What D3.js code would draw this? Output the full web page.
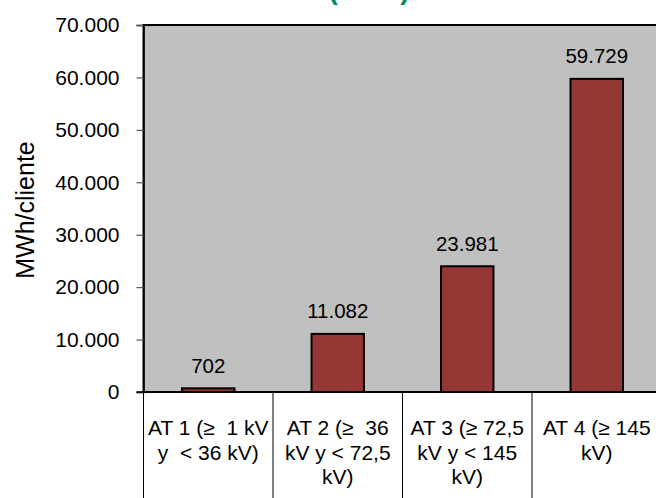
<!DOCTYPE html>
<html><head><meta charset="utf-8">
<script src="https://cdn.jsdelivr.net/npm/d3@7"></script>
<style>body{margin:0;background:#fff}svg{display:block;font-family:Arial,"Liberation Sans",sans-serif}</style>
</head><body><svg id="c" width="656" height="498"></svg>
<script>
const categories = [
  ["AT 1 (≥  1 kV", "y  < 36 kV)"],
  ["AT 2 (≥  36", "kV y < 72,5", "kV)"],
  ["AT 3 (≥ 72,5", "kV y < 145", "kV)"],
  ["AT 4 (≥ 145", "kV)"]
];
const values = [702, 11082, 23981, 59729];
const yTicks = [0, 10000, 20000, 30000, 40000, 50000, 60000, 70000];
const yTitle = "MWh/cliente";
const title = "(2008)";

const loc = d3.formatLocale({decimal: ",", thousands: ".", grouping: [3], currency: ["", "€"]});
const fmt = loc.format(",.0f");

const svg = d3.select("#c");
const pL = 143.5, pR = 661.5, pT = 25, pB = 392;
const x = d3.scaleBand().domain(d3.range(categories.length)).range([pL, pR]).paddingInner(0).paddingOuter(0);
const y = d3.scaleLinear().domain([0, 70000]).range([pB, pT]);

// title (mostly cut off above the top edge, as in the reference)
svg.append("text").attr("x", 369).attr("y", -1.5).attr("text-anchor", "middle")
  .attr("font-size", 28).attr("font-weight", "bold").attr("fill", "#008a66").text(title);

// plot area
svg.append("rect").attr("x", pL).attr("y", pT).attr("width", pR - pL).attr("height", pB - pT)
  .attr("fill", "#c0c0c0").attr("stroke", "#000").attr("stroke-width", 2);

// y axis
const yAxis = svg.append("g").attr("transform", `translate(${pL},0)`)
  .call(d3.axisLeft(y).tickValues(yTicks).tickFormat(fmt).tickSize(7).tickPadding(17));
yAxis.select(".domain").attr("stroke", "#000").attr("stroke-width", 1.5);
yAxis.selectAll(".tick line").attr("stroke", "#555").attr("stroke-width", 1.2);
yAxis.selectAll(".tick text").attr("font-size", 21).attr("fill", "#000").attr("font-family", "Arial, 'Liberation Sans', sans-serif");

// y title
svg.append("text").attr("transform", `translate(33.5,210) rotate(-90)`).attr("text-anchor", "middle")
  .attr("font-size", 25).attr("fill", "#000").text(yTitle);

// bars
const bw = x.bandwidth() * 0.405;
svg.selectAll("rect.bar").data(values).enter().append("rect").attr("class", "bar")
  .attr("x", (d, i) => x(i) + x.bandwidth() / 2 - bw / 2)
  .attr("y", d => y(d)).attr("width", bw).attr("height", d => y(0) - y(d))
  .attr("fill", "#953735").attr("stroke", "#000").attr("stroke-width", 2);

// value labels
svg.selectAll("text.val").data(values).enter().append("text").attr("class", "val")
  .attr("x", (d, i) => x(i) + x.bandwidth() / 2).attr("y", d => y(d) - 15.5)
  .attr("text-anchor", "middle").attr("font-size", 20.5).attr("fill", "#000").text(d => fmt(d));

// baseline
svg.append("line").attr("x1", pL - 7).attr("x2", pR).attr("y1", y(0)).attr("y2", y(0))
  .attr("stroke", "#000").attr("stroke-width", 1.5);

// category dividers
const bounds = d3.range(categories.length + 1).map(i => i < categories.length ? x(i) : pR);
svg.selectAll("line.div").data(bounds).enter().append("line").attr("class", "div")
  .attr("x1", d => d).attr("x2", d => d).attr("y1", y(0)).attr("y2", 498)
  .attr("stroke", "#000").attr("stroke-width", 1);

// category labels
categories.forEach((lines, i) => {
  const t = svg.append("text").attr("text-anchor", "middle").attr("font-size", 21).attr("fill", "#000")
    .attr("xml:space", "preserve").style("white-space", "pre");
  lines.forEach((ln, j) => {
    t.append("tspan").attr("x", x(i) + x.bandwidth() / 2).attr("y", 435 + j * 24.5).text(ln);
  });
});
</script></body></html>
